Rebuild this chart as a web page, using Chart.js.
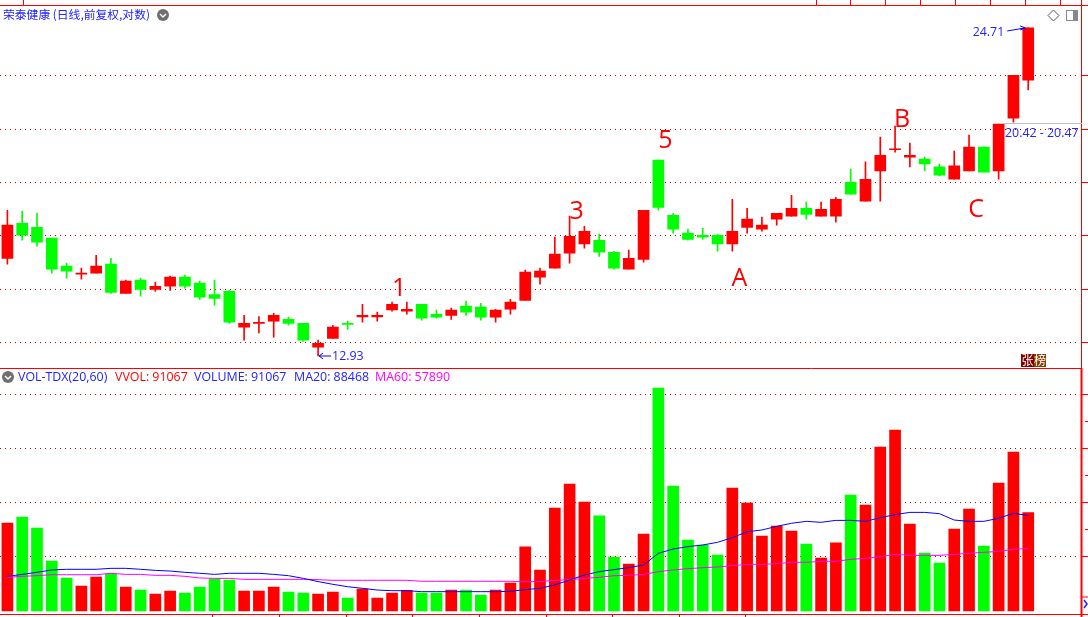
<!DOCTYPE html>
<html lang="zh">
<head>
<meta charset="UTF-8">
<title>荣泰健康</title>
<script src="https://cdn.jsdelivr.net/npm/chart.js"></script>
<style>
    html, body { margin: 0; padding: 0; background: #fff; overflow: hidden; }
    canvas { display: block; }
</style>
</head>
<body>
<canvas id="kline" width="1088" height="617"></canvas>
<script>
const opens = [15.68,16.80,16.67,16.32,15.44,15.20,15.23,15.50,14.63,15.02,14.75,14.84,15.11,14.93,14.60,14.69,13.69,13.79,13.85,13.90,13.79,13.16,13.39,13.79,13.97,13.97,14.16,14.13,14.32,14.04,14.01,14.27,14.24,13.96,14.18,14.43,15.11,15.38,15.84,16.13,16.25,15.87,15.35,15.65,19.04,17.07,16.48,16.41,16.41,16.13,16.67,16.61,16.94,17.04,17.31,17.04,17.04,18.22,17.55,18.63,19.43,19.15,19.07,18.78,18.33,18.63,19.53,18.63,20.68,22.29];
const closes = [16.74,16.41,16.19,15.35,15.29,15.23,15.44,14.66,14.99,14.75,14.84,15.11,14.84,14.52,14.49,13.82,13.79,13.82,14.01,13.79,13.34,13.26,13.69,13.76,14.01,14.01,14.32,14.18,13.93,13.96,14.16,14.10,13.96,14.16,14.38,15.26,15.29,15.81,16.38,16.54,15.87,15.38,15.68,17.24,17.34,16.61,16.28,16.35,16.13,16.54,16.94,16.74,17.14,17.31,17.10,17.27,17.62,17.80,18.33,19.22,19.45,19.22,18.89,18.48,18.82,19.53,18.59,20.44,22.50,24.71];
const highs = [17.24,17.21,17.14,16.32,15.53,15.38,15.77,15.68,15.02,15.08,14.96,15.14,15.17,14.99,15.02,14.72,14.01,13.98,14.07,13.96,13.79,13.34,13.74,13.85,14.32,14.10,14.38,14.38,14.32,14.16,14.21,14.41,14.35,14.18,14.46,15.32,15.38,16.35,17.04,16.70,16.45,15.90,15.94,17.24,19.04,17.14,16.61,16.64,16.45,17.62,17.31,17.01,17.14,17.76,17.52,17.52,17.69,18.70,18.97,19.92,20.36,19.69,19.15,18.89,19.38,20.00,19.53,20.44,22.50,24.71];
const lows = [15.50,16.25,16.06,15.23,15.08,15.05,15.23,14.63,14.63,14.55,14.69,14.72,14.78,14.46,14.29,13.79,13.34,13.53,13.42,13.74,13.31,12.93,13.39,13.63,13.82,13.85,14.13,14.04,13.88,13.93,13.90,14.01,13.88,13.82,14.04,14.43,14.90,15.38,15.53,16.00,15.74,15.35,15.35,15.56,17.24,16.48,16.25,16.28,15.90,15.90,16.48,16.54,16.74,17.04,16.94,17.04,16.84,17.80,17.55,17.55,19.34,18.78,18.63,18.45,18.33,18.63,18.59,18.33,20.52,21.86];
const volumes = [81500,87000,76800,46300,30500,23100,31500,34300,22200,19400,15700,18500,16700,22200,29600,28700,18500,18500,22200,17600,16700,15700,17600,12000,20400,12000,16700,19100,16700,16700,19400,19400,14800,19400,25900,59300,38000,95400,117600,100900,88000,50000,43500,71300,206500,115700,65700,61100,51800,113900,100000,69400,78700,74100,62000,49100,63000,107400,98100,151800,167600,80500,53700,44400,75900,94400,60200,118500,147200,91067];
const ma20 = [32100,33900,35800,38000,38600,38600,38600,39500,39500,38600,37600,37000,35800,34900,33900,34900,34900,34900,33900,32700,30200,27200,24700,22500,21000,19400,18800,18800,17900,17900,17900,17900,17900,17900,18200,19800,21000,24100,28700,33300,36400,38300,40100,42600,53400,57400,59600,61100,63600,67900,73400,75000,78400,81200,83000,82100,83900,83900,83000,86400,89200,91300,91300,90100,84200,83000,83000,85800,90400,88468];
const ma60 = [31200,32100,32700,33600,33600,33600,33600,34900,33900,33900,33000,33000,32100,30600,30200,30200,29300,29300,29300,29300,29300,29000,28400,28400,28400,28400,28400,28400,27500,27500,27500,27500,27500,27500,27500,27200,27200,28400,29000,30200,31200,32700,33000,33900,36400,38000,39200,40100,40700,42000,43200,43200,43800,45100,45100,46000,46000,47800,48800,50300,52500,51500,51500,51500,52500,53400,54300,55200,57100,57890];

const priceTicks = [13.28,14.75,16.41,18.22,20.23,22.50];
const volumeTicks = [50000,100000,150000,200000];
const waveNames = ['1','3','5','A','B','C'];
const waveBars = [26,38,44,49,60,65];
const wavePrices = [14.77,17.18,19.76,15.06,20.62,17.25];

// three empty slots stay at the right of the last bar
const slots = Array.from({ length: 73 }, (_, i) => i);
const RED = '#ff0000';
const GREEN = '#00ff00';
const BLUE = '#2222ff';
const MAGENTA = '#ff00ff';
const barColors = opens.map((o, i) => closes[i] >= o ? RED : GREEN);

function drawText(ctx, text, x, y, color, font, align) {
    ctx.fillStyle = color;
    ctx.font = font;
    ctx.textAlign = align || 'left';
    ctx.textBaseline = 'middle';
    ctx.fillText(text, x, y);
}

function line(ctx, x1, y1, x2, y2, color, width) {
    ctx.strokeStyle = color;
    ctx.lineWidth = width || 1;
    ctx.beginPath();
    ctx.moveTo(x1, y1);
    ctx.lineTo(x2, y2);
    ctx.stroke();
}

function menuIcon(ctx, x, y) {
    ctx.fillStyle = '#6e6e6e';
    ctx.beginPath();
    ctx.arc(x, y, 6, 0, Math.PI * 2);
    ctx.fill();
    ctx.strokeStyle = '#fff';
    ctx.lineWidth = 1.5;
    ctx.beginPath();
    ctx.moveTo(x - 3, y - 1);
    ctx.lineTo(x, y + 2);
    ctx.lineTo(x + 3, y - 1);
    ctx.stroke();
}

const decorations = {
    id: 'decorations',
    afterDraw(chart) {
        const ctx = chart.ctx;
        const x = chart.scales.x;
        const y = chart.scales.y;
        const small = '12.4px "Open Sans"';
        ctx.save();

        // panel frame
        line(ctx, 0, 5.5, 1088, 5.5, RED);
        line(ctx, 0, 368.5, 1082, 368.5, RED);
        line(ctx, 0, 614.5, 1088, 614.5, RED);
        line(ctx, 1081.5, 0, 1081.5, 368, RED);
        line(ctx, 1081.5, 368, 1081.5, 617, RED, 2);
        [23.5, 816.5, 850.5, 885.5, 920.5, 955.5, 990.5, 1025.5, 1060.5].forEach(px => line(ctx, px, 0, px, 5, RED));
        [212.5, 279.5, 346.5, 412.5, 479.5, 546.5, 612.5, 679.5, 745.5].forEach(px => line(ctx, px, 615, px, 617, RED));
        priceTicks.forEach(v => {
            const py = Math.round(y.getPixelForValue(v)) + 0.5;
            line(ctx, 1082, py, 1088, py, RED);
        });
        [394.5, 448.5, 502.5, 556.5].forEach(py => line(ctx, 1082, py, 1088, py, RED));
        [421.5, 475.5, 529.5].forEach(py => line(ctx, 1085, py, 1088, py, RED));
        line(ctx, 1082, 597, 1088, 597, RED);

        // headers
        drawText(ctx, '荣泰健康 (日线,前复权,对数)', 3, 15, BLUE, '11.8px "Noto Sans CJK SC"');
        menuIcon(ctx, 163, 15);
        menuIcon(ctx, 8, 377);
        drawText(ctx, 'VOL-TDX(20,60)', 18, 377, BLUE, small);
        drawText(ctx, 'VVOL: 91067', 115, 377, RED, small);
        drawText(ctx, 'VOLUME: 91067', 194, 377, BLUE, small);
        drawText(ctx, 'MA20: 88468', 294, 377, BLUE, small);
        drawText(ctx, 'MA60: 57890', 375, 377, MAGENTA, small);

        // wave labels sit just right of their bar
        waveNames.forEach((name, i) => {
            drawText(ctx, name, x.getPixelForValue(waveBars[i]) + 7, y.getPixelForValue(wavePrices[i]), RED, '25px "Open Sans"', 'center');
        });

        // high, low and range notes
        const hx = x.getPixelForValue(69);
        const hy = y.getPixelForValue(24.71);
        drawText(ctx, '24.71', hx - 24, hy + 5, BLUE, small, 'right');
        line(ctx, hx - 21, hy + 3, hx - 3, hy, '#0000ff');
        line(ctx, hx - 8, hy - 2, hx - 3, hy, '#0000ff');
        line(ctx, hx - 8, hy + 2, hx - 3, hy, '#0000ff');
        const lx = x.getPixelForValue(21);
        const ly = y.getPixelForValue(12.93);
        drawText(ctx, '12.93', lx + 14, ly, BLUE, small);
        line(ctx, lx + 13, ly, lx + 1, ly, '#0000ff');
        line(ctx, lx + 5, ly - 3, lx + 1, ly, '#0000ff');
        line(ctx, lx + 5, ly + 3, lx + 1, ly, '#0000ff');
        line(ctx, 1003, 123.5, 1082, 123.5, '#c0c0c0');
        drawText(ctx, '20.42 - 20.47', 1005, 133, BLUE, small);

        // corner widgets
        ctx.strokeStyle = '#555';
        ctx.lineWidth = 1;
        ctx.beginPath();
        ctx.moveTo(1053.5, 10);
        ctx.lineTo(1059, 15.5);
        ctx.lineTo(1053.5, 21);
        ctx.lineTo(1048, 15.5);
        ctx.closePath();
        ctx.stroke();
        ctx.strokeStyle = '#888';
        ctx.strokeRect(1066.5, 10.5, 11, 10);
        ctx.fillStyle = '#888';
        ctx.fillRect(1073, 11, 4, 9);
        ctx.fillStyle = '#800000';
        ctx.fillRect(1021, 354, 13, 13);
        ctx.fillStyle = '#804000';
        ctx.fillRect(1034, 354, 12, 13);
        drawText(ctx, '张', 1027.5, 360.5, '#fff', '12px "Noto Sans CJK SC"', 'center');
        drawText(ctx, '榜', 1040, 360.5, '#fff', '12px "Noto Sans CJK SC"', 'center');
        ctx.strokeStyle = '#2222ff';
        ctx.lineWidth = 1.5;
        ctx.beginPath();
        ctx.moveTo(1084, 600);
        ctx.lineTo(1087, 604);
        ctx.lineTo(1084, 608);
        ctx.stroke();
        ctx.restore();
    }
};

new Chart(document.getElementById('kline'), {
    data: {
        labels: slots,
        datasets: [
            {
                type: 'line', yAxisID: 'vol', data: ma20, borderColor: '#0000ff',
                borderWidth: 1, pointRadius: 0, order: 0
            },
            {
                type: 'line', yAxisID: 'vol', data: ma60, borderColor: MAGENTA,
                borderWidth: 1, pointRadius: 0, order: 1
            },
            {
                type: 'bar', yAxisID: 'y', data: opens.map((o, i) => [o, closes[i]]),
                backgroundColor: barColors, barThickness: 11, minBarLength: 1, grouped: false, order: 2
            },
            {
                type: 'bar', yAxisID: 'y', data: lows.map((l, i) => [l, highs[i]]),
                backgroundColor: barColors, barThickness: 1, grouped: false, order: 3
            },
            {
                type: 'bar', yAxisID: 'vol', data: volumes,
                backgroundColor: barColors, barThickness: 11, grouped: false, order: 4
            }
        ]
    },
    options: {
        responsive: false,
        animation: false,
        events: [],
        layout: { padding: { left: -1.1, right: 8, top: 5.3, bottom: 2.7 } },
        plugins: { legend: { display: false }, tooltip: { enabled: false } },
        scales: {
            x: { display: false, offset: true },
            y: {
                type: 'logarithmic',
                position: 'left',
                stack: 'panels',
                stackWeight: 363,
                weight: 2,
                min: 12.62,
                max: 25.84,
                afterBuildTicks: axis => { axis.ticks = priceTicks.map(v => ({ value: v })); },
                ticks: { display: false },
                border: { display: false, dash: [1, 4] },
                grid: { color: '#c00000', drawTicks: false }
            },
            vol: {
                type: 'linear',
                position: 'left',
                stack: 'panels',
                stackWeight: 246,
                weight: 1,
                min: -3056,
                max: 224700,
                afterBuildTicks: axis => { axis.ticks = volumeTicks.map(v => ({ value: v })); },
                ticks: { display: false },
                border: { display: false, dash: [1, 4] },
                grid: { color: '#c00000', drawTicks: false }
            }
        }
    },
    plugins: [decorations]
});
</script>
</body>
</html>
